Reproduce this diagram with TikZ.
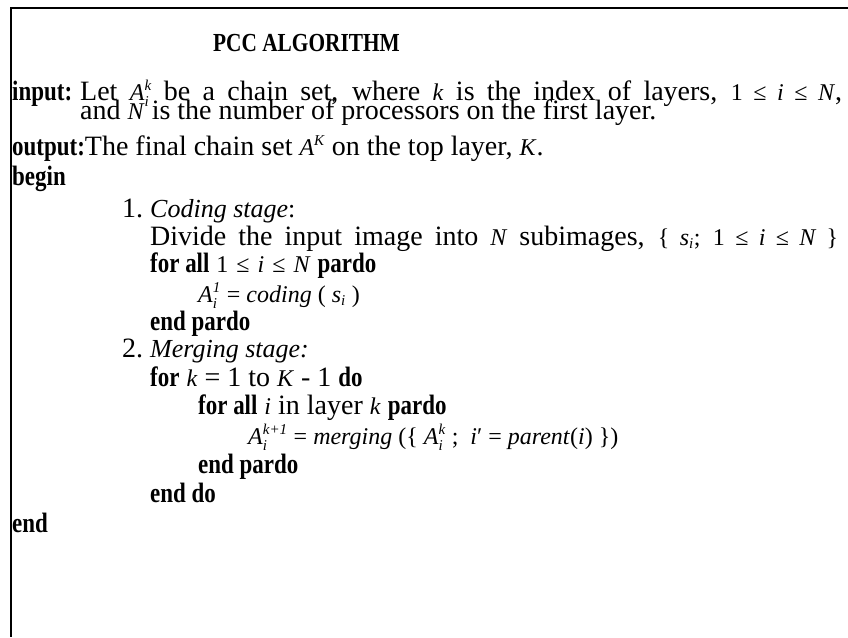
\documentclass[tikz,border=0pt]{standalone}
\usepackage{graphicx}
\usepackage{fontspec}
\setmainfont{Liberation Serif}
% sizes: plain text, narrow bold keywords, and the size used for symbols and variables
\newcommand\bodyfont{\fontsize{28}{32}\selectfont}
\newcommand\kw[1]{\scalebox{0.82}[1]{\fontsize{28}{32}\selectfont\bfseries #1}}
\newcommand\mth[1]{{\fontsize{24}{24}\selectfont #1}}
\newcommand\scr{\fontsize{15}{15}\selectfont\itshape}
\newcommand\idx[2]{\ensuremath{^{\mbox{\scr #1}}_{\mbox{\scr #2}}}}
\newcommand\up[1]{\ensuremath{^{\mbox{\scr #1}}}}
\newcommand\dn[1]{\ensuremath{_{\mbox{\scr #1}}}}
\newcommand\lesp{\hspace{8pt}≤\hspace{8pt}}
% a line set to a given width, its spaces stretched
\newcommand\spread[2]{\makebox[#1][s]{#2}}
\tikzset{
  txt/.style={anchor=base west, inner sep=0pt, font=\bodyfont},
  frame/.style={line width=1.6pt}
}
\begin{document}
\begin{tikzpicture}[x=1pt,y=-1pt]
\useasboundingbox (0,0) rectangle (848,637);
% open frame: only the top and left edges are drawn
\coordinate (tl) at (11,8);
\coordinate (tr) at (848,8);
\coordinate (bl) at (11,637);
\draw[frame] (tr) -- (tl) -- (bl);

\node[txt] (title) at (213,51) {\scalebox{0.82}[1]{\fontsize{26}{30}\selectfont\bfseries PCC ALGORITHM}};

\node[txt] (inkey) at (12,100) {\kw{input:}};
\node[txt] (in1) at (80,100) {\spread{762pt}{Let \mth{\textit{A}\idx{k}{i}} be a chain set, where \mth{\textit{k}} is the index of layers, \mth{1 ≤ \textit{i} ≤ \textit{N}},}};
\node[txt] (in2) at (80,119) {and \mth{\textit{N}} is the number of processors on the first layer.};

\node[txt] (out) at (12,155) {\kw{output:}The final chain set \mth{\textit{A}\up{K}} on the top layer, \mth{\textit{K}}.};
\node[txt] (begin) at (12,185) {\kw{begin}};

\node[txt] (n1) at (122,217) {1.};
\node[txt, font=\fontsize{26}{30}\selectfont] (code) at (150,217) {\textit{Coding stage}:};
\node[txt] (divide) at (150,245) {\spread{688pt}{Divide the input image into \mth{\textit{N}} subimages, \mth{\{ \textit{s}\dn{i}; 1 ≤ \textit{i} ≤ \textit{N} \}}}};
\node[txt] (forall1) at (150,272) {\kw{for all} \mth{1\lesp\textit{i}\lesp\textit{N}} \kw{pardo}};
\node[txt] (assign1) at (198,302) {\mth{\textit{A}\idx{1}{i} = \textit{coding} ( \textit{s}\dn{i} )}};
\node[txt] (endp1) at (150,330) {\kw{end pardo}};

\node[txt] (n2) at (122,357) {2.};
\node[txt, font=\fontsize{26}{30}\selectfont] (merge) at (150,357) {\textit{Merging stage:}};
\node[txt] (fork) at (150,386) {\kw{for} \mth{\textit{k}} = 1 to \mth{\textit{K}} - 1 \kw{do}};
\node[txt] (forall2) at (198,414) {\kw{for all} \mth{\textit{i}} in layer \mth{\textit{k}} \kw{pardo}};
\node[txt] (assign2) at (248,444) {\mth{\textit{A}\idx{k+1}{i} = \textit{merging} (\{ \textit{A}\idx{k}{i} ;~ \textit{i}′ = \textit{parent}(\textit{i}) \})}};
\node[txt] (endp2) at (198,473) {\kw{end pardo}};
\node[txt] (enddo) at (150,502) {\kw{end do}};
\node[txt] (end) at (12,532) {\kw{end}};
\end{tikzpicture}
\end{document}
